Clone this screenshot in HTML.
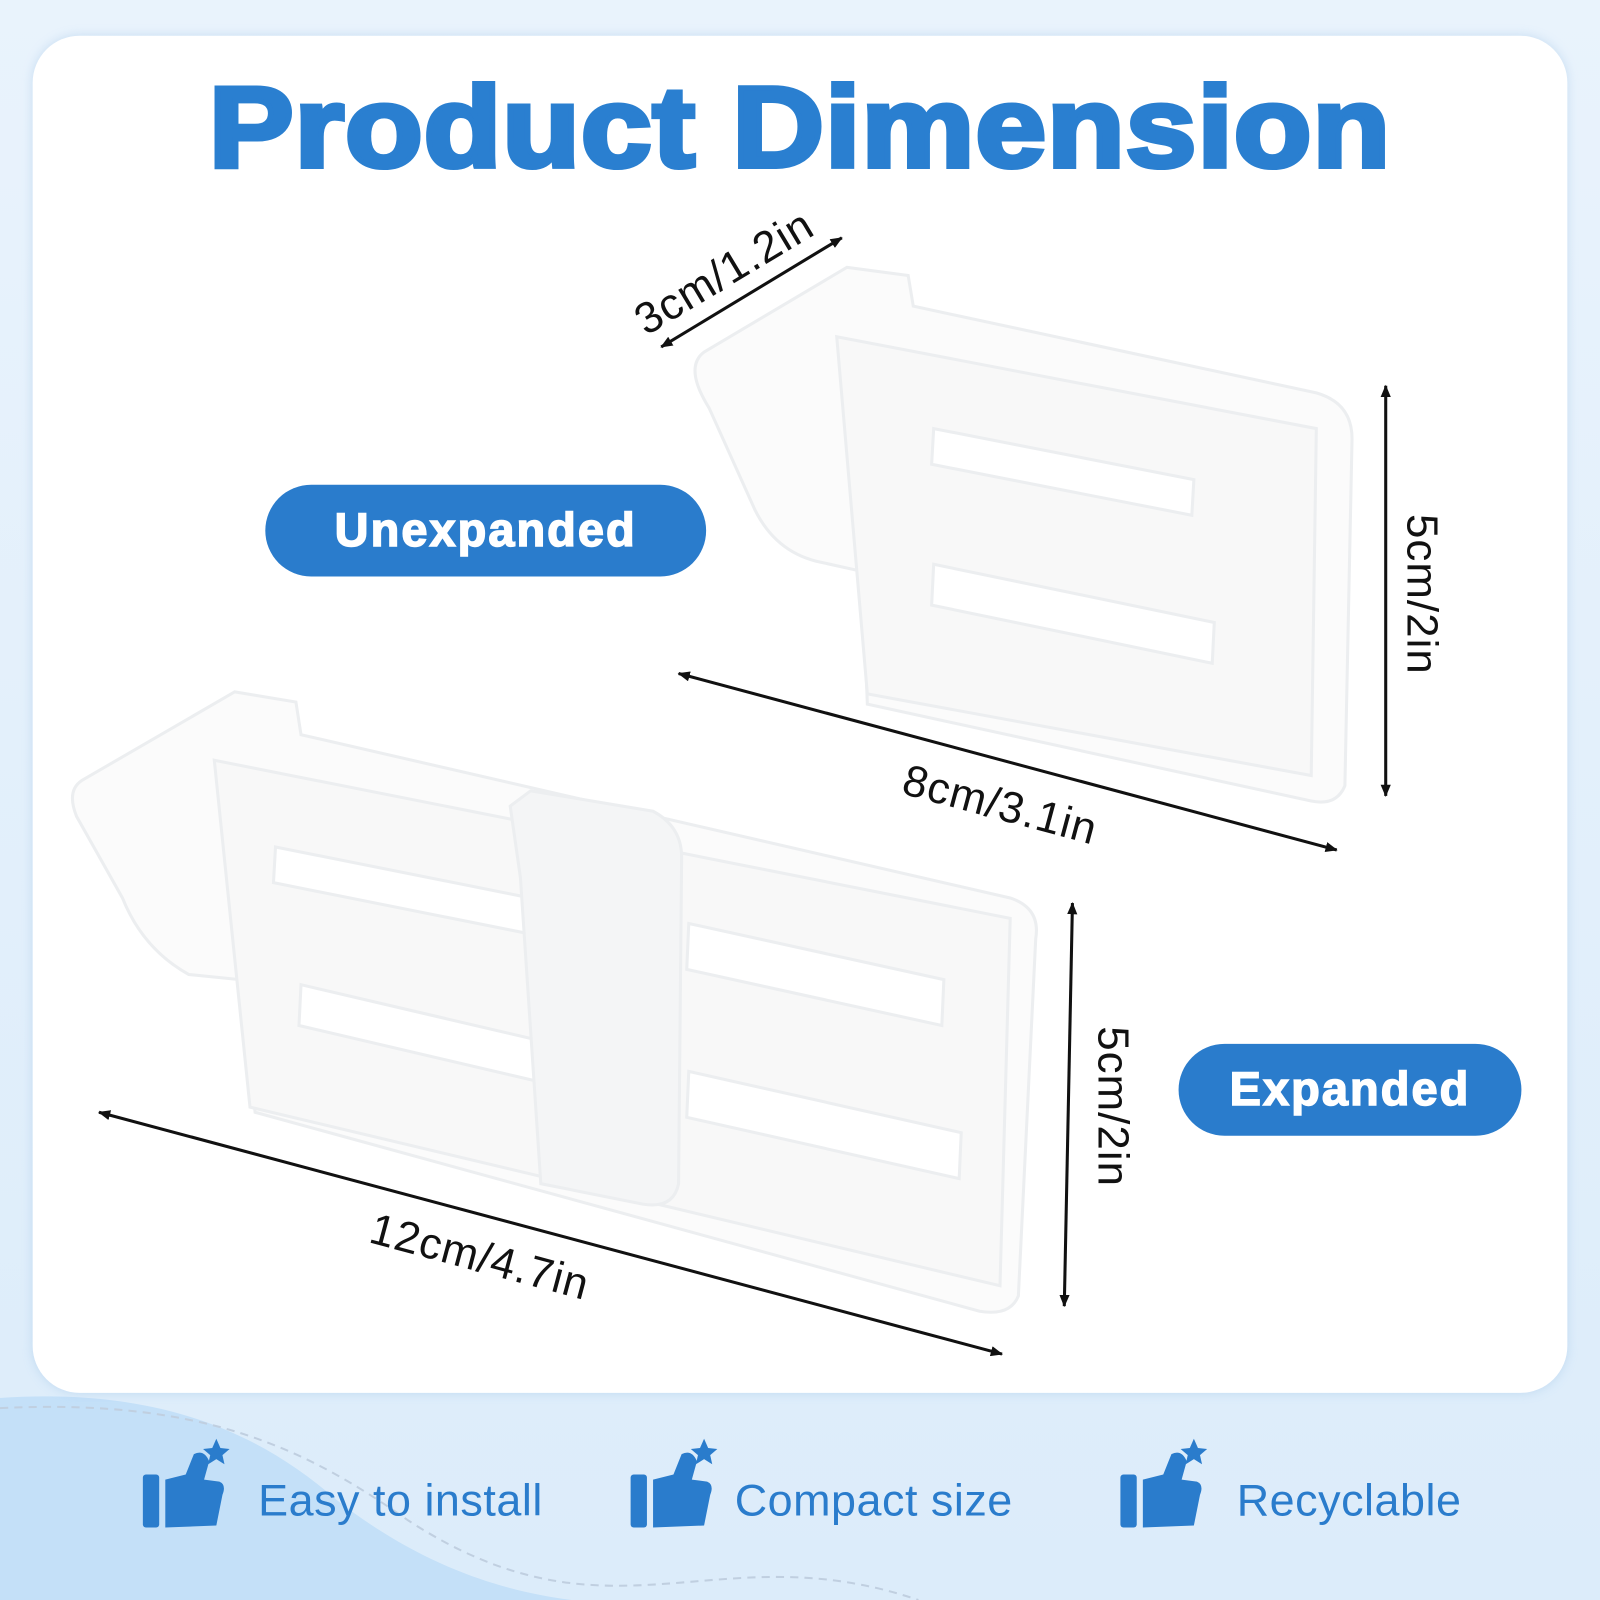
<!DOCTYPE html>
<html><head><meta charset="utf-8"><style>
html,body{margin:0;padding:0;width:1600px;height:1600px;overflow:hidden}
#w{width:1568px;height:1568px;transform:scale(1.020408);transform-origin:0 0;position:relative;background:linear-gradient(180deg,#e9f3fc 0%,#dcecfa 100%);font-family:"Liberation Sans",sans-serif}
.card{position:absolute;left:32px;top:35px;width:1504px;height:1330px;background:#fff;border-radius:46px;box-shadow:0 0 10px rgba(150,190,230,.4)}
.title{position:absolute;left:0;width:1568px;top:60px;text-align:center;font-size:112px;font-weight:900;color:#2a7fd0;letter-spacing:1px;-webkit-text-stroke:5px #2a7fd0;transform:scaleX(1.11);transform-origin:center}
.pill{position:absolute;background:#2a7ccc;color:#fff;border-radius:46px;font-weight:900;font-size:46px;text-align:center;-webkit-text-stroke:1.5px #fff;letter-spacing:2px}
.lab{position:absolute;font-size:43px;color:#111;white-space:nowrap;transform-origin:center center;letter-spacing:1px}
.feat{position:absolute;top:1446px;font-size:44px;color:#2a7ccc;letter-spacing:0.5px}
</style></head><body><div id="w">
<svg width="1568" height="1568" style="position:absolute;left:0;top:0">
<path d="M0 1370 C150 1360 250 1400 330 1470 C420 1540 500 1560 560 1568 L0 1568Z" fill="#c4e0f8"/>
<path d="M0 1380 C200 1370 300 1420 400 1490 C600 1620 700 1500 900 1568" fill="none" stroke="#c0cfe0" stroke-width="2" stroke-dasharray="8 6"/>
</svg>
<div class="card"></div>
<div class="title">Product Dimension</div>
<svg width="1568" height="1568" style="position:absolute;left:0;top:0">
<defs><marker id="a" markerWidth="12" markerHeight="10" refX="11" refY="5" orient="auto-start-reverse" markerUnits="userSpaceOnUse"><path d="M0 0L12 5L0 10Z" fill="#111"/></marker></defs>
<g fill="#fbfbfb" stroke="#eceef0" stroke-width="3">
<path d="M690 345 L830 262 L890 270 L895 300 L1290 385 Q1325 395 1325 430 L1318 770 Q1310 790 1285 785 L850 690 L845 560 L800 550 Q760 540 740 500 L695 400 Q670 360 690 345Z"/>
<path d="M820 330 L1290 420 L1285 760 L850 680Z" fill="#f8f8f8"/>
<path d="M915 420 L1170 470 L1168 505 L913 455Z" fill="#fff"/>
<path d="M915 553 L1190 610 L1188 650 L913 593Z" fill="#fff"/>
<path d="M80 765 L230 678 L290 688 L295 720 L990 880 Q1020 890 1015 920 L998 1270 Q990 1290 960 1285 L250 1090 L235 960 L185 955 Q140 930 120 880 L75 800 Q65 775 80 765Z"/>
<path d="M210 745 L990 900 L980 1260 L245 1085Z" fill="#f8f8f8"/>
<path d="M270 830 L520 880 L518 915 L268 865Z" fill="#fff"/>
<path d="M295 965 L530 1020 L528 1060 L293 1005Z" fill="#fff"/>
<path d="M675 905 L925 960 L923 1005 L673 950Z" fill="#fff"/>
<path d="M675 1050 L942 1110 L940 1155 L673 1095Z" fill="#fff"/>
<path d="M500 790 L520 775 L640 795 Q668 810 668 840 L665 1160 Q660 1185 630 1180 L530 1160 L510 860 Z" fill="#f4f5f6"/>
</g>
<g stroke="#111" stroke-width="3" fill="none" marker-start="url(#a)" marker-end="url(#a)">
<line x1="648" y1="340" x2="825" y2="233"/>
<line x1="1358" y1="378" x2="1358" y2="780"/>
<line x1="665" y1="660" x2="1310" y2="833"/>
<line x1="1051" y1="885" x2="1043" y2="1280"/>
<line x1="97" y1="1090" x2="982" y2="1327"/>
</g>
<g fill="#2a7ccc">
<g id="t"><rect x="140" y="1445" width="16" height="52" rx="3"/><path d="M162 1450 L182 1445 L190 1425 Q200 1420 205 1432 L200 1450 L215 1452 Q222 1455 218 1465 L212 1495 L162 1497Z"/><path d="M208 1419 l4 -9 l4 9 l9 1 l-7 6 l2 9 l-8 -5 l-8 5 l2 -9 l-7 -6Z"/></g>
<use href="#t" x="478"/><use href="#t" x="958"/>
</g>
</svg>
<div class="pill" style="left:260px;top:475px;width:432px;height:90px;line-height:88px">Unexpanded</div>
<div class="pill" style="left:1155px;top:1023px;width:336px;height:90px;line-height:88px">Expanded</div>
<div class="lab" style="left:600px;top:243px;width:220px;text-align:center;transform:rotate(-31deg)">3cm/1.2in</div>
<div class="lab" style="left:1293px;top:558px;width:200px;text-align:center;transform:rotate(90deg)">5cm/2in</div>
<div class="lab" style="left:860px;top:765px;width:240px;text-align:center;transform:rotate(15deg)">8cm/3.1in</div>
<div class="lab" style="left:990px;top:1060px;width:200px;text-align:center;transform:rotate(90deg)">5cm/2in</div>
<div class="lab" style="left:325px;top:1208px;width:290px;text-align:center;transform:rotate(15deg)">12cm/4.7in</div>
<div class="feat" style="left:253px">Easy to install</div>
<div class="feat" style="left:720px">Compact size</div>
<div class="feat" style="left:1212px">Recyclable</div>
</div></body></html>
